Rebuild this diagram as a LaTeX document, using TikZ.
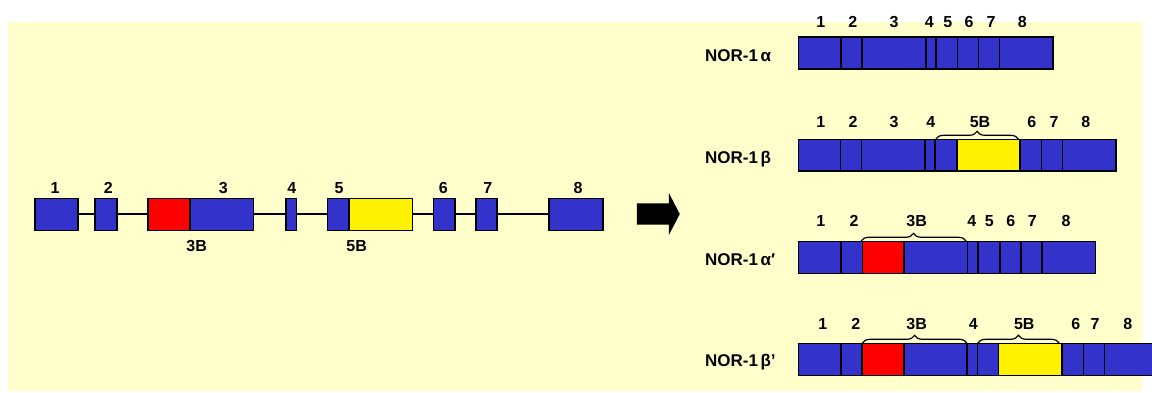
\documentclass[tikz,border=0pt]{standalone}
\usepackage{fontspec}
\setmainfont{Liberation Sans}
\usetikzlibrary{shapes.arrows,decorations.pathreplacing}
\definecolor{exonblue}{RGB}{51,51,204}
\definecolor{paper}{RGB}{255,255,204}
% \exon{name}{x1}{x2}{y1}{y2}{fill}
\newcommand\exon[6]{\node[exon,fill=#6,minimum width={(#3-#2)*1pt},minimum height={(#5-#4)*1pt}] (#1) at ({(#2+#3)/2},{(#4+#5)/2}) {};}
% \lbl{name}{x}{y}{text}
\newcommand\lbl[4]{\node[lab] (#1) at (#2,#3) {#4};}
\begin{document}
\begin{tikzpicture}[x=1pt,y=-1pt,
  exon/.style={draw=black,line width=1.6pt,inner sep=0pt,outer sep=0pt},
  lab/.style={font=\fontsize{16}{18}\selectfont\bfseries,inner sep=0pt},
  isoname/.style={font=\fontsize{17}{19}\selectfont\bfseries,inner sep=0pt,anchor=base west},
  link/.style={line width=2pt},
  brc/.style={decorate,decoration={brace,amplitude=8pt},line width=1.2pt}]
\clip (0,0) rectangle (1152,392);
\fill[paper] (8,22) rectangle (1142,391);

% genomic structure
\exon{g1}{35}{77.7}{198.3}{230.3}{exonblue}
\exon{g2}{95}{116.7}{198.3}{230.3}{exonblue}
\exon{g3B}{148}{190}{198.3}{230.3}{red}
\exon{g3}{190}{253.3}{198.3}{230.3}{exonblue}
\exon{g4}{285.7}{296.3}{198.3}{230.3}{exonblue}
\exon{g5}{327.3}{348.7}{198.3}{230.3}{exonblue}
\exon{g5B}{348.7}{412.3}{198.3}{230.3}{yellow}
\exon{g6}{433.3}{455}{198.3}{230.3}{exonblue}
\exon{g7}{475.7}{497}{198.3}{230.3}{exonblue}
\exon{g8}{549}{603}{198.3}{230.3}{exonblue}
\draw[link] (g1.east) -- (g2.west);
\draw[link] (g2.east) -- (g3B.west);
\draw[link] (g3.east) -- (g4.west);
\draw[link] (g4.east) -- (g5.west);
\draw[link] (g5B.east) -- (g6.west);
\draw[link] (g6.east) -- (g7.west);
\draw[link] (g7.east) -- (g8.west);
\lbl{gl1}{55}{188.3}{1}
\lbl{gl2}{108.3}{188.3}{2}
\lbl{gl3}{223.3}{188.3}{3}
\lbl{gl4}{291.7}{188.3}{4}
\lbl{gl5}{339}{188.3}{5}
\lbl{gl6}{443.3}{188.3}{6}
\lbl{gl7}{487.7}{188.3}{7}
\lbl{gl8}{578}{188.3}{8}
\lbl{gl3B}{196.7}{246}{3B}
\lbl{gl5B}{356.7}{246.5}{5B}

% block arrow between genomic structure and isoforms
\node[single arrow,fill=black,draw=none,inner xsep=0pt,inner ysep=10.5pt,minimum height=43pt,
  minimum width=42pt,single arrow head extend=10.5pt,single arrow tip angle=125] (arr) at (655.5,214) {};

% NOR-1 alpha
\node[isoname] (na) at (705,61.7) {NOR-1\kern2.5pt α};
\exon{a1}{798.3}{841}{36.7}{69}{exonblue}
\exon{a2}{841}{861.7}{36.7}{69}{exonblue}
\exon{a3}{861.7}{925.7}{36.7}{69}{exonblue}
\exon{a4}{925.7}{936}{36.7}{69}{exonblue}
\exon{a5}{936}{957.3}{36.7}{69}{exonblue}
\exon{a6}{957.3}{978.3}{36.7}{69}{exonblue}
\exon{a7}{978.3}{999.3}{36.7}{69}{exonblue}
\exon{a8}{999.3}{1052.7}{36.7}{69}{exonblue}
\lbl{al1}{820.7}{21.7}{1}
\lbl{al2}{852.7}{21.7}{2}
\lbl{al3}{894}{21.7}{3}
\lbl{al4}{929.3}{21.7}{4}
\lbl{al5}{947.7}{21.7}{5}
\lbl{al6}{969}{21.7}{6}
\lbl{al7}{991}{21.7}{7}
\lbl{al8}{1022.3}{21.7}{8}

% NOR-1 beta
\node[isoname] (nb) at (705,163.3) {NOR-1\kern2.5pt β};
\exon{b1}{798.3}{840.3}{139.3}{171}{exonblue}
\exon{b2}{840.3}{861.3}{139.3}{171}{exonblue}
\exon{b3}{861.3}{924.7}{139.3}{171}{exonblue}
\exon{b4}{924.7}{934.7}{139.3}{171}{exonblue}
\exon{b5}{934.7}{956.7}{139.3}{171}{exonblue}
\exon{b5B}{956.7}{1020}{139.3}{171}{yellow}
\exon{b6}{1020}{1041.3}{139.3}{171}{exonblue}
\exon{b7}{1041.3}{1062.3}{139.3}{171}{exonblue}
\exon{b8}{1062.3}{1115.7}{139.3}{171}{exonblue}
\draw[brc] ([xshift=1pt]b5.north west) -- ([xshift=-1.5pt]b5B.north east);
\lbl{bl1}{820.7}{122.3}{1}
\lbl{bl2}{853}{122.3}{2}
\lbl{bl3}{894}{122.3}{3}
\lbl{bl4}{930.7}{122.3}{4}
\lbl{bl5B}{980}{122.3}{5B}
\lbl{bl6}{1031.7}{122.3}{6}
\lbl{bl7}{1054}{122.3}{7}
\lbl{bl8}{1085.7}{122.3}{8}

% NOR-1 alpha'
\node[isoname] (nc) at (705,265) {NOR-1\kern2.5pt α′};
\exon{c1}{798.3}{841}{241.3}{273.3}{exonblue}
\exon{c2}{841}{862.3}{241.3}{273.3}{exonblue}
\exon{c3B}{862.3}{904}{241.3}{273.3}{red}
\exon{c3}{904}{967.3}{241.3}{273.3}{exonblue}
\exon{c4}{967.3}{978}{241.3}{273.3}{exonblue}
\exon{c5}{978}{999.7}{241.3}{273.3}{exonblue}
\exon{c6}{999.7}{1020.7}{241.3}{273.3}{exonblue}
\exon{c7}{1020.7}{1041.7}{241.3}{273.3}{exonblue}
\exon{c8}{1041.7}{1095.3}{241.3}{273.3}{exonblue}
\draw[brc] ([xshift=-1.5pt]c3B.north west) -- ([xshift=-1pt]c3.north east);
\lbl{cl1}{820.7}{221}{1}
\lbl{cl2}{854}{221}{2}
\lbl{cl3B}{916.7}{221}{3B}
\lbl{cl4}{971.7}{221}{4}
\lbl{cl5}{989.3}{221}{5}
\lbl{cl6}{1010.7}{221}{6}
\lbl{cl7}{1032.3}{221}{7}
\lbl{cl8}{1066}{221}{8}

% NOR-1 beta'
\node[isoname] (nd) at (705,366.7) {NOR-1\kern2.5pt β’};
\exon{d1}{798.3}{841}{343.3}{375.3}{exonblue}
\exon{d2}{841}{861.7}{343.3}{375.3}{exonblue}
\exon{d3B}{861.7}{903.7}{343.3}{375.3}{red}
\exon{d3}{903.7}{966.7}{343.3}{375.3}{exonblue}
\exon{d4}{966.7}{977.3}{343.3}{375.3}{exonblue}
\exon{d5}{977.3}{998.3}{343.3}{375.3}{exonblue}
\exon{d5B}{998.3}{1061.7}{343.3}{375.3}{yellow}
\exon{d6}{1061.7}{1083.3}{343.3}{375.3}{exonblue}
\exon{d7}{1083.3}{1104.3}{343.3}{375.3}{exonblue}
\exon{d8}{1104.3}{1160}{343.3}{375.3}{exonblue}
\draw[brc] ([xshift=0.5pt]d3B.north west) -- ([xshift=0.3pt]d3.north east);
\draw[brc] ([xshift=0.4pt]d5.north west) -- ([xshift=-2.4pt]d5B.north east);
\lbl{dl1}{822.7}{324}{1}
\lbl{dl2}{855.7}{324}{2}
\lbl{dl3B}{916.7}{324}{3B}
\lbl{dl4}{973.3}{324}{4}
\lbl{dl5B}{1024.3}{324}{5B}
\lbl{dl6}{1075.7}{324}{6}
\lbl{dl7}{1095}{324}{7}
\lbl{dl8}{1127.7}{324}{8}
\end{tikzpicture}
\end{document}
